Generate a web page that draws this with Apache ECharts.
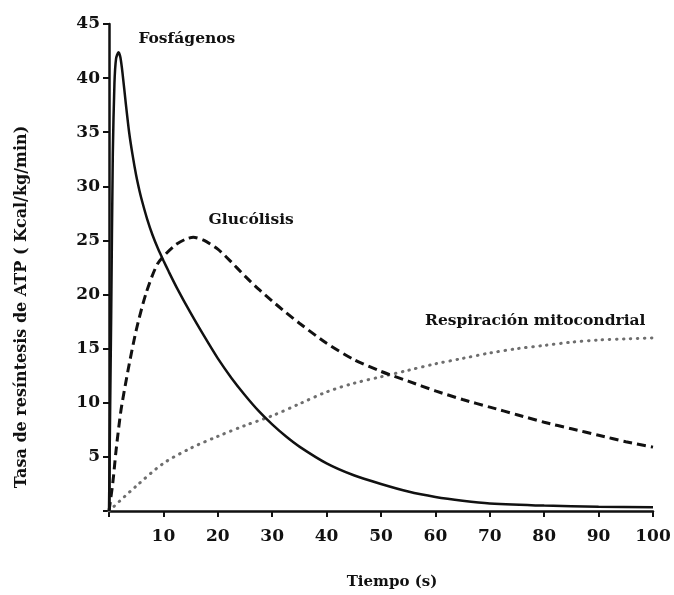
<!DOCTYPE html>
<html>
<head>
<meta charset="utf-8">
<script src="https://cdn.jsdelivr.net/npm/echarts@6/dist/echarts.min.js"></script>
<style>
html,body{margin:0;padding:0;background:#fff;}
#chart{width:674px;height:595px;}
</style>
</head>
<body>
<div id="chart"></div>
<script>
// Fosfágenos (solid)
var fosT = [0, 0.4, 0.7, 1.0, 1.3, 1.75, 2.1, 2.5, 3.1, 3.7, 4.3, 5.0, 5.6, 6.1, 7, 8, 9, 10, 11, 12.5, 15, 17.5, 20, 22.5, 25, 27.5, 30, 32.5, 35, 40, 45, 50, 55, 60, 65, 70, 80, 90, 100];
var fosY = [0, 18, 33, 39.5, 41.8, 42.4, 41.9, 40.4, 37.6, 35.0, 33.0, 31.0, 29.6, 28.6, 27.0, 25.5, 24.25, 23.15, 22.1, 20.6, 18.3, 16.15, 14.1, 12.3, 10.7, 9.25, 8.0, 6.9, 5.95, 4.4, 3.3, 2.5, 1.8, 1.3, 0.95, 0.7, 0.5, 0.4, 0.35];
// Glucólisis (dashed)
var gluT = [0, 0.7, 1.3, 2.2, 3.5, 5, 6.8, 9, 12, 14, 15.5, 17.5, 20, 22.5, 25, 27.5, 30, 32.5, 35, 40, 45, 50, 55, 60, 65, 70, 75, 80, 85, 90, 95, 100];
var gluY = [0, 2.6, 5.6, 9.3, 13.0, 16.7, 20.1, 22.9, 24.5, 25.1, 25.3, 25.0, 24.2, 23.0, 21.7, 20.5, 19.4, 18.35, 17.35, 15.5, 14.0, 12.9, 12.0, 11.1, 10.3, 9.6, 8.9, 8.2, 7.6, 7.0, 6.4, 5.9];
// Respiración mitocondrial (dotted)
var resT = [0, 5, 10, 15, 20, 25, 30, 35, 40, 45, 50, 55, 60, 65, 70, 75, 80, 85, 90, 95, 100];
var resY = [0, 2.3, 4.4, 5.8, 6.9, 7.9, 8.8, 9.9, 11.0, 11.8, 12.4, 13.0, 13.6, 14.1, 14.6, 15.0, 15.3, 15.6, 15.8, 15.9, 16.0];
// Labels
var labelNames = ['Fosfágenos', 'Glucólisis', 'Respiración mitocondrial'];
var labelX = [5.4, 18.3, 58.1];
var labelY = [43.6, 26.9, 17.6];
var xTicks = [10, 20, 30, 40, 50, 60, 70, 80, 90, 100];
var yTicks = [5, 10, 15, 20, 25, 30, 35, 40, 45];
var xTitle = 'Tiempo (s)';
var yTitle = 'Tasa de resíntesis de ATP ( Kcal/kg/min)';

function pairs(t, y) { return t.map(function (v, i) { return [v, y[i]]; }); }

var FONT = 'DejaVu Serif';
var chart = echarts.init(document.getElementById('chart'));
chart.setOption({
  backgroundColor: '#fff',
  animation: false,
  grid: { left: 109, right: 21, top: 24, bottom: 84 },
  xAxis: {
    type: 'value', min: 0, max: 100, interval: 10,
    splitLine: { show: false },
    axisLine: { lineStyle: { color: '#111', width: 2.5 } },
    axisTick: { length: 6, lineStyle: { color: '#111', width: 2 } },
    axisLabel: {
      margin: 17, color: '#111', fontFamily: FONT, fontWeight: 'bold', fontSize: 17,
      formatter: function (v) { return xTicks.indexOf(v) >= 0 ? String(v) : ''; }
    }
  },
  yAxis: {
    type: 'value', min: 0, max: 45, interval: 5,
    splitLine: { show: false },
    axisLine: { lineStyle: { color: '#111', width: 2.5 } },
    axisTick: { length: 6, lineStyle: { color: '#111', width: 2 } },
    axisLabel: {
      margin: 9, color: '#111', fontFamily: FONT, fontWeight: 'bold', fontSize: 17,
      formatter: function (v) { return yTicks.indexOf(v) >= 0 ? String(v) : ''; }
    }
  },
  graphic: [
    { type: 'text', x: 392, y: 582, style: { text: xTitle, fill: '#111', font: 'bold 15px "DejaVu Serif"', align: 'center', verticalAlign: 'middle' } },
    { type: 'text', x: 22, y: 307, rotation: Math.PI / 2, style: { text: yTitle, fill: '#111', font: 'bold 16px "DejaVu Serif"', align: 'center', verticalAlign: 'middle' } }
  ],
  series: [
    {
      type: 'line', data: pairs(resT, resY), smooth: 0.3, symbol: 'none',
      lineStyle: { color: '#6e6e6e', width: 3, type: [0.5, 6.5], cap: 'round' }
    },
    {
      type: 'line', data: pairs(gluT, gluY), smooth: 0.25, symbol: 'none',
      lineStyle: { color: '#111', width: 3, type: [9, 5] }
    },
    {
      type: 'line', data: pairs(fosT, fosY), smooth: 0.25, symbol: 'none',
      lineStyle: { color: '#111', width: 2.5 }
    },
    {
      type: 'scatter', symbolSize: 0, silent: true,
      itemStyle: { opacity: 1 },
      data: labelNames.map(function (n, i) { return { value: [labelX[i], labelY[i]], name: n }; }),
      label: {
        show: true, position: 'right', distance: 0, formatter: '{b}', opacity: 1,
        color: '#111', fontFamily: FONT, fontWeight: 'bold', fontSize: 15.5
      }
    }
  ]
});
</script>
</body>
</html>
